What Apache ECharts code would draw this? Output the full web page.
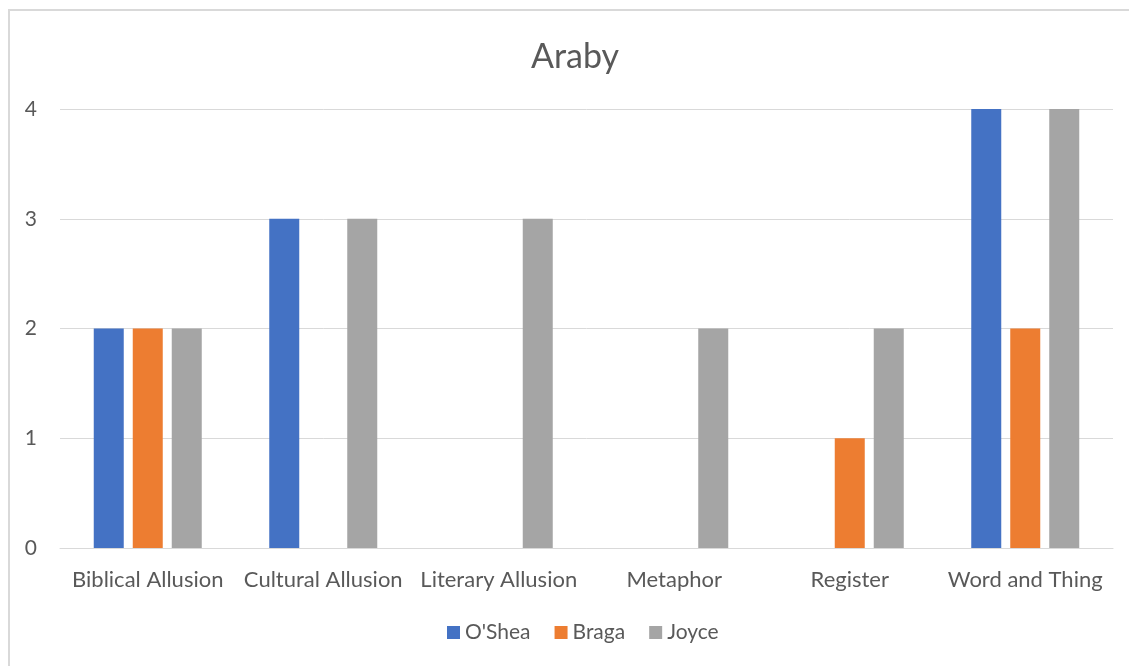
<!DOCTYPE html>
<html>
<head>
<meta charset="utf-8">
<script src="https://cdn.jsdelivr.net/npm/echarts@6/dist/echarts.min.js"></script>
<style>
  html, body { margin: 0; padding: 0; background: #fff; }
  #chart { width: 1129px; height: 666px; }
</style>
</head>
<body>
<div id="chart"></div>
<script>
// Device counts per category in "Araby"
const categories = ['Biblical Allusion', 'Cultural Allusion', 'Literary Allusion', 'Metaphor', 'Register', 'Word and Thing'];
const oshea = [2, 3, 0, 0, 0, 4];
const braga = [2, 0, 0, 0, 1, 2];
const joyce = [2, 3, 3, 2, 2, 4];
const yTicks = [0, 1, 2, 3, 4];

const font = 'Lato, "Open Sans", sans-serif';
const textColor = '#595959';

const chart = echarts.init(document.getElementById('chart'), null, { renderer: 'canvas' });
chart.setOption({
  backgroundColor: '#fff',
  animation: false,
  graphic: [{
    type: 'polyline',
    shape: { points: [[9, 700], [9, 10], [1140, 10]] },
    style: { stroke: '#d9d9d9', lineWidth: 2, fill: null },
    silent: true
  }],
  title: {
    text: 'Araby',
    left: 526,
    top: 35,
    textStyle: { fontFamily: font, fontSize: 34, fontWeight: 'normal', color: textColor }
  },
  legend: {
    bottom: 18,
    left: 442,
    itemWidth: 13,
    itemHeight: 13,
    itemGap: 24,
    icon: 'rect',
    textStyle: { fontFamily: font, fontSize: 21, color: textColor },
    data: ["O'Shea", 'Braga', 'Joyce']
  },
  grid: { left: 60, right: 16, top: 109, bottom: 118, containLabel: false },
  xAxis: {
    type: 'category',
    data: categories,
    axisLine: { lineStyle: { color: '#d9d9d9', width: 1 } },
    axisTick: { show: false },
    axisLabel: { fontFamily: font, fontSize: 22, color: textColor, margin: 21, interval: 0 }
  },
  yAxis: {
    type: 'value',
    min: yTicks[0],
    max: yTicks[yTicks.length - 1],
    interval: 1,
    axisLine: { show: false },
    axisTick: { show: false },
    splitLine: { lineStyle: { color: '#d9d9d9', width: 1 } },
    axisLabel: { fontFamily: font, fontSize: 21, color: textColor, margin: 23 }
  },
  series: [
    { name: "O'Shea", type: 'bar', data: oshea, barWidth: 30, barGap: '30%', itemStyle: { color: '#4472c4' } },
    { name: 'Braga', type: 'bar', data: braga, barWidth: 30, barGap: '30%', itemStyle: { color: '#ed7d31' } },
    { name: 'Joyce', type: 'bar', data: joyce, barWidth: 30, barGap: '30%', itemStyle: { color: '#a5a5a5' } }
  ]
});
</script>
</body>
</html>
